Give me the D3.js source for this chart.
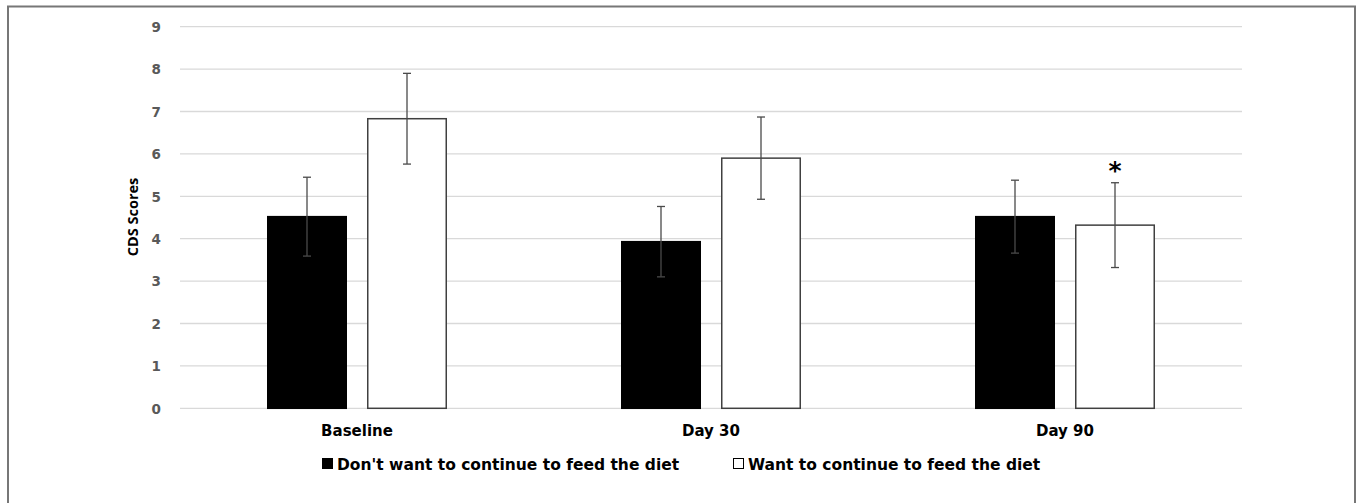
<!DOCTYPE html>
<html><head><meta charset="utf-8">
<script src="https://cdn.jsdelivr.net/npm/d3@7"></script>
<style>
html,body{margin:0;padding:0;background:#fff;}
svg{display:block;}
text{font-family:"DejaVu Sans",sans-serif;font-weight:700;}
</style></head>
<body>
<svg id="c" width="1360" height="503"></svg>
<script>
const categories = ["Baseline", "Day 30", "Day 90"];
const seriesNames = ["Don't want to continue to feed the diet", "Want to continue to feed the diet"];
const dontWant = [4.52, 3.93, 4.52];
const dontWantErr = [0.93, 0.83, 0.86];
const want = [6.83, 5.90, 4.32];
const wantErr = [1.07, 0.97, 1.00];
const yTicks = [0,1,2,3,4,5,6,7,8,9];
const significant = [false, false, true]; // asterisk over "want" bar

const svg = d3.select("#c");
// frame
svg.append("path").attr("d","M8,503 V6.5 H1355 V503").attr("fill","none").attr("stroke","#777").attr("stroke-width",2);

const x0 = 180, x1 = 1242;
const y = d3.scaleLinear().domain([0,9]).range([408.3, 26.7]);
const x = d3.scaleBand().domain(categories).range([x0, x1]).padding(0);
const xs = d3.scaleBand().domain([0,1]).range([0,180]).paddingInner(0.2);

// gridlines
svg.append("g").selectAll("line").data(yTicks).join("line")
  .attr("x1",x0).attr("x2",x1)
  .attr("y1",d=>y(d)).attr("y2",d=>y(d))
  .attr("stroke","#d9d9d9").attr("stroke-width",1.3);

// y axis labels
const yAxis = d3.axisLeft(y).tickValues(yTicks).tickSize(0).tickPadding(0);
const ga = svg.append("g").attr("transform","translate(161,0)").call(yAxis);
ga.select(".domain").remove();
ga.selectAll("text").style("font-family","'DejaVu Sans',sans-serif").style("font-weight",700)
  .attr("font-size",13.5).attr("fill","#595959").attr("dy","0.36em");

// y title
svg.append("text").attr("transform","translate(138,217) rotate(-90)")
  .attr("text-anchor","middle").style("font-family","'Open Sans',sans-serif")
  .attr("font-size",14.5).attr("fill","#000").text("CDS Scores");

const groups = categories.map((c,i)=>({c,i}));
const series = [
  {vals:dontWant, errs:dontWantErr, fill:"#000", stroke:"#000"},
  {vals:want, errs:wantErr, fill:"#fff", stroke:"#404040"}
];
const gx = c => x(c) + (x.bandwidth()-180)/2;

series.forEach((s,si)=>{
  const g = svg.append("g");
  g.selectAll("rect").data(groups).join("rect")
    .attr("x",d=>gx(d.c)+xs(si)+0.75)
    .attr("width",xs.bandwidth()-1.5)
    .attr("y",d=>y(s.vals[d.i]))
    .attr("height",d=>y(0)-y(s.vals[d.i]))
    .attr("fill",s.fill).attr("stroke",s.stroke).attr("stroke-width",1.5);
  const eg = svg.append("g").attr("stroke","#4a4a4a").attr("stroke-width",1.3);
  groups.forEach(d=>{
    const cx = gx(d.c)+xs(si)+xs.bandwidth()/2;
    const v = s.vals[d.i], e = s.errs[d.i];
    eg.append("line").attr("x1",cx).attr("x2",cx).attr("y1",y(v+e)).attr("y2",y(v-e));
    eg.append("line").attr("x1",cx-4).attr("x2",cx+4).attr("y1",y(v+e)).attr("y2",y(v+e));
    eg.append("line").attr("x1",cx-4).attr("x2",cx+4).attr("y1",y(v-e)).attr("y2",y(v-e));
    if(si===1 && significant[d.i]){
      svg.append("text").attr("x",cx).attr("y",y(v+e)-4).attr("text-anchor","middle")
        .attr("font-size",25).attr("fill","#000").text("*");
    }
  });
});

// x labels
svg.append("g").selectAll("text").data(categories).join("text")
  .attr("x",d=>x(d)+x.bandwidth()/2).attr("y",436)
  .attr("text-anchor","middle").attr("font-size",15).attr("fill","#000").text(d=>d);

// legend
const leg = [{x:322, fill:"#000"}, {x:733, fill:"#fff"}];
leg.forEach((l,i)=>{
  svg.append("rect").attr("x",l.x+0.5).attr("y",458.5).attr("width",10).attr("height",10)
    .attr("fill",l.fill).attr("stroke","#000").attr("stroke-width",1);
  svg.append("text").attr("x",l.x+15).attr("y",470).attr("font-size",15.5).attr("fill","#000")
    .text(seriesNames[i]);
});
</script>
</body></html>
